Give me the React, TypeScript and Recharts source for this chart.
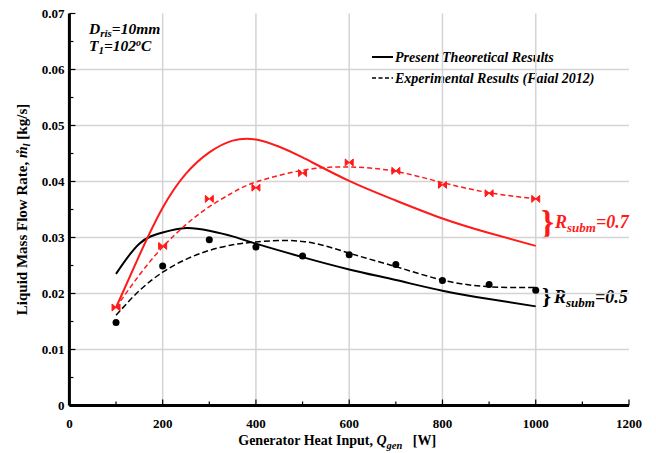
import React from "react";
import {
  ComposedChart,
  Line,
  Scatter,
  XAxis,
  YAxis,
  ReferenceLine,
} from "recharts";

// Q_gen [W] vs liquid mass flow [kg/s]
const theoryR05 = [
  { q: 100, m: 0.0235 },
  { q: 150, m: 0.0289 },
  { q: 200, m: 0.0309 },
  { q: 250, m: 0.0317 },
  { q: 300, m: 0.0312 },
  { q: 350, m: 0.0302 },
  { q: 400, m: 0.0289 },
  { q: 500, m: 0.0265 },
  { q: 600, m: 0.0243 },
  { q: 700, m: 0.0224 },
  { q: 800, m: 0.0205 },
  { q: 900, m: 0.019 },
  { q: 1000, m: 0.0177 },
];

const theoryR07 = [
  { q: 100, m: 0.0175 },
  { q: 150, m: 0.0268 },
  { q: 200, m: 0.0353 },
  { q: 250, m: 0.0414 },
  { q: 300, m: 0.0452 },
  { q: 350, m: 0.0473 },
  { q: 400, m: 0.0475 },
  { q: 450, m: 0.0462 },
  { q: 500, m: 0.0443 },
  { q: 600, m: 0.0401 },
  { q: 700, m: 0.0366 },
  { q: 800, m: 0.0334 },
  { q: 900, m: 0.0308 },
  { q: 1000, m: 0.0285 },
];

const fitR05 = [
  { q: 100, m: 0.0161 },
  { q: 150, m: 0.0205 },
  { q: 200, m: 0.0238 },
  { q: 250, m: 0.0261 },
  { q: 300, m: 0.0277 },
  { q: 350, m: 0.0287 },
  { q: 400, m: 0.0292 },
  { q: 500, m: 0.0293 },
  { q: 600, m: 0.0272 },
  { q: 700, m: 0.0248 },
  { q: 800, m: 0.0224 },
  { q: 900, m: 0.0212 },
  { q: 1000, m: 0.0211 },
];

const fitR07 = [
  { q: 100, m: 0.0175 },
  { q: 150, m: 0.0233 },
  { q: 200, m: 0.0283 },
  { q: 250, m: 0.0323 },
  { q: 300, m: 0.0355 },
  { q: 350, m: 0.038 },
  { q: 400, m: 0.0399 },
  { q: 500, m: 0.042 },
  { q: 600, m: 0.0426 },
  { q: 700, m: 0.0418 },
  { q: 800, m: 0.0398 },
  { q: 900, m: 0.038 },
  { q: 1000, m: 0.0369 },
];

const expR05 = [
  { q: 100, m: 0.0148 },
  { q: 200, m: 0.0249 },
  { q: 300, m: 0.0296 },
  { q: 400, m: 0.0283 },
  { q: 500, m: 0.0267 },
  { q: 600, m: 0.0269 },
  { q: 700, m: 0.0252 },
  { q: 800, m: 0.0223 },
  { q: 900, m: 0.0216 },
  { q: 1000, m: 0.0206 },
];

const expR07 = [
  { q: 100, m: 0.0175 },
  { q: 200, m: 0.0285 },
  { q: 300, m: 0.0369 },
  { q: 400, m: 0.0389 },
  { q: 500, m: 0.0415 },
  { q: 600, m: 0.0434 },
  { q: 700, m: 0.0419 },
  { q: 800, m: 0.0394 },
  { q: 900, m: 0.0379 },
  { q: 1000, m: 0.0369 },
];

const xTicks = [0, 100, 200, 300, 400, 500, 600, 700, 800, 900, 1000, 1100, 1200];
const yTicks = [
  0, 0.005, 0.01, 0.015, 0.02, 0.025, 0.03, 0.035, 0.04, 0.045, 0.05, 0.055,
  0.06, 0.065, 0.07,
];
const xGrid = [200, 400, 600, 800, 1000];
const yGrid = [0.01, 0.02, 0.03, 0.04, 0.05, 0.06];

const FONT = "'Liberation Serif', 'Times New Roman', serif";
const RED = "#ff1a1a";

const isMajorX = (v: number) => v % 200 === 0;
const isMajorY = (v: number) => Math.round(v * 1000) % 10 === 0;

const BottomTick = (props: any) => {
  const { x, y, payload } = props;
  const major = isMajorX(payload.value);
  return (
    <g>
      <line x1={x} x2={x} y1={y} y2={y - (major ? 6 : 4)} stroke="#000" strokeWidth={1.2} />
      {major && (
        <text x={x} y={y + 22} textAnchor="middle" fontFamily={FONT} fontWeight="bold" fontSize={13} fill="#000">
          {payload.value}
        </text>
      )}
    </g>
  );
};

const TopTick = (props: any) => {
  const { x, y, payload } = props;
  const major = isMajorX(payload.value);
  return <line x1={x} x2={x} y1={y} y2={y + (major ? 6 : 4)} stroke="#000" strokeWidth={1.2} />;
};

const LeftTick = (props: any) => {
  const { x, y, payload } = props;
  const major = isMajorY(payload.value);
  return (
    <g>
      <line x1={x} x2={x + (major ? 6 : 4)} y1={y} y2={y} stroke="#000" strokeWidth={1.2} />
      {major && (
        <text x={x - 5} y={y + 4.5} textAnchor="end" fontFamily={FONT} fontWeight="bold" fontSize={13} fill="#000">
          {String(payload.value)}
        </text>
      )}
    </g>
  );
};

const RightTick = (props: any) => {
  const { x, y, payload } = props;
  const major = isMajorY(payload.value);
  return <line x1={x} x2={x - (major ? 6 : 4)} y1={y} y2={y} stroke="#000" strokeWidth={1.2} />;
};

const Bowtie = (props: any) => {
  const { cx, cy } = props;
  if (cx == null || cy == null) return null;
  return (
    <path
      d={`M${cx - 4},${cy - 3.5} L${cx},${cy} L${cx - 4},${cy + 3.5} Z M${cx + 4},${cy - 3.5} L${cx},${cy} L${cx + 4},${cy + 3.5} Z`}
      fill={RED}
      stroke={RED}
      strokeWidth={1}
    />
  );
};

const Dot = (props: any) => {
  const { cx, cy } = props;
  if (cx == null || cy == null) return null;
  return <circle cx={cx} cy={cy} r={3.5} fill="#000" />;
};

const YTitle = (props: any) => {
  const vb = props.viewBox || {};
  const cy = vb.y + vb.height / 2;
  const cx = 14;
  return (
    <text
      x={cx}
      y={cy}
      transform={`rotate(-90, ${cx}, ${cy})`}
      textAnchor="middle"
      dominantBaseline="central"
      fontFamily={FONT}
      fontWeight="bold"
      fontSize={15}
      fill="#000"
    >
      Liquid Mass Flow Rate,{" "}
      <tspan fontStyle="italic">m&#778;</tspan>
      <tspan fontStyle="italic" fontSize={11} dy={4}>l</tspan>
      <tspan dy={-4}> [kg/s]</tspan>
    </text>
  );
};

const XTitle = (props: any) => {
  const vb = props.viewBox || {};
  const cx = vb.x + vb.width / 2 - 12;
  return (
    <text x={cx} y={437} textAnchor="middle" fontFamily={FONT} fontWeight="bold" fontSize={14} fill="#000">
      Generator Heat Input, <tspan fontStyle="italic">Q</tspan>
      <tspan fontStyle="italic" fontSize={10.5} dy={4}>gen</tspan>
      <tspan dy={-4} xmlSpace="preserve">{"   [W]"}</tspan>
    </text>
  );
};

export default function App() {
  return (
    <div style={{ width: 640, height: 445, position: "relative" }}>
      <style>{"body{overflow:hidden}"}</style>
      <ComposedChart
        width={640}
        height={445}
        margin={{ top: 5.5, right: 19, left: 0, bottom: 0 }}
        style={{ overflow: "visible" }}
      >
        <XAxis
          xAxisId="bottom"
          type="number"
          dataKey="q"
          domain={[0, 1200]}
          ticks={xTicks}
          interval={0}
          height={47.5}
          tickSize={0}
          tickMargin={0}
          tick={<BottomTick />}
          axisLine={{ stroke: "#000", strokeWidth: 3 }}
          tickLine={false}
          label={<XTitle />}
        />
        <XAxis
          xAxisId="top"
          orientation="top"
          type="number"
          dataKey="q"
          domain={[0, 1200]}
          ticks={xTicks}
          interval={0}
          height={0}
          tickSize={0}
          tickMargin={0}
          tick={<TopTick />}
          axisLine={{ stroke: "#000", strokeWidth: 3 }}
          tickLine={false}
        />
        <YAxis
          yAxisId="left"
          type="number"
          dataKey="m"
          domain={[0, 0.07]}
          ticks={yTicks}
          interval={0}
          width={61.4}
          tickSize={0}
          tickMargin={0}
          tick={<LeftTick />}
          axisLine={{ stroke: "#000", strokeWidth: 3 }}
          tickLine={false}
          label={<YTitle />}
        />
        <YAxis
          yAxisId="right"
          orientation="right"
          type="number"
          dataKey="m"
          domain={[0, 0.07]}
          ticks={yTicks}
          interval={0}
          width={0}
          tickSize={0}
          tickMargin={0}
          tick={<RightTick />}
          axisLine={{ stroke: "#000", strokeWidth: 3 }}
          tickLine={false}
        />

        {xGrid.map((v) => (
          <ReferenceLine key={`gx${v}`} x={v} xAxisId="bottom" yAxisId="left" stroke="#d4d4d4" strokeWidth={1.5} />
        ))}
        {yGrid.map((v) => (
          <ReferenceLine key={`gy${v}`} y={v} xAxisId="bottom" yAxisId="left" stroke="#d4d4d4" strokeWidth={1.5} />
        ))}

        <Line
          data={theoryR05}
          dataKey="m"
          xAxisId="bottom"
          yAxisId="left"
          type="natural"
          stroke="#000"
          strokeWidth={2}
          dot={false}
          isAnimationActive={false}
        />
        <Line
          data={fitR05}
          dataKey="m"
          xAxisId="bottom"
          yAxisId="left"
          type="natural"
          stroke="#000"
          strokeWidth={1.5}
          strokeDasharray="6 3"
          dot={false}
          isAnimationActive={false}
        />
        <Line
          data={theoryR07}
          dataKey="m"
          xAxisId="bottom"
          yAxisId="left"
          type="natural"
          stroke={RED}
          strokeWidth={2}
          dot={false}
          isAnimationActive={false}
        />
        <Line
          data={fitR07}
          dataKey="m"
          xAxisId="bottom"
          yAxisId="left"
          type="natural"
          stroke={RED}
          strokeWidth={1.5}
          strokeDasharray="5 3"
          dot={false}
          isAnimationActive={false}
        />
        <Scatter data={expR05} dataKey="m" xAxisId="bottom" yAxisId="left" shape={<Dot />} isAnimationActive={false} />
        <Scatter data={expR07} dataKey="m" xAxisId="bottom" yAxisId="left" shape={<Bowtie />} isAnimationActive={false} />

        {/* top-left conditions */}
        <text x={81} y={26} fontFamily={FONT} fontWeight="bold" fontStyle="italic" fontSize={15.5} fill="#000">
          D<tspan fontSize={11} dy={3}>ris</tspan>
          <tspan dy={-3}>=10mm</tspan>
        </text>
        <text x={81} y={43} fontFamily={FONT} fontWeight="bold" fontStyle="italic" fontSize={15.5} fill="#000">
          T<tspan fontSize={11} dy={3}>1</tspan>
          <tspan dy={-3}>=102</tspan>
          <tspan fontSize={10} dy={-5}>o</tspan>
          <tspan dy={5}>C</tspan>
        </text>

        {/* legend */}
        <line x1={364} x2={385} y1={49} y2={49} stroke="#000" strokeWidth={2} />
        <text x={387} y={54} fontFamily={FONT} fontWeight="bold" fontStyle="italic" fontSize={14} fill="#000">
          Present Theoretical Results
        </text>
        <line x1={364} x2={385} y1={70} y2={70} stroke="#000" strokeWidth={1.5} strokeDasharray="4 2.5" />
        <text x={387} y={75} fontFamily={FONT} fontWeight="bold" fontStyle="italic" fontSize={14} fill="#000">
          Experimental Results (Faial 2012)
        </text>

        {/* submergence labels */}
        <text x={533} y={226} fontFamily={FONT} fontWeight="bold" fontSize={33} fill={RED}>
          {"}"}
        </text>
        <text x={547} y={220} fontFamily={FONT} fontWeight="bold" fontStyle="italic" fontSize={18} fill={RED}>
          R<tspan fontSize={13} dy={4}>subm</tspan>
          <tspan dy={-4}>=0.7</tspan>
        </text>
        <text x={534} y={296} fontFamily={FONT} fontWeight="bold" fontSize={23} fill="#000">
          {"}"}
        </text>
        <text x={546} y={295} fontFamily={FONT} fontWeight="bold" fontStyle="italic" fontSize={18} fill="#000">
          R<tspan fontSize={13} dy={4}>subm</tspan>
          <tspan dy={-4}>=0.5</tspan>
        </text>
      </ComposedChart>
    </div>
  );
}
